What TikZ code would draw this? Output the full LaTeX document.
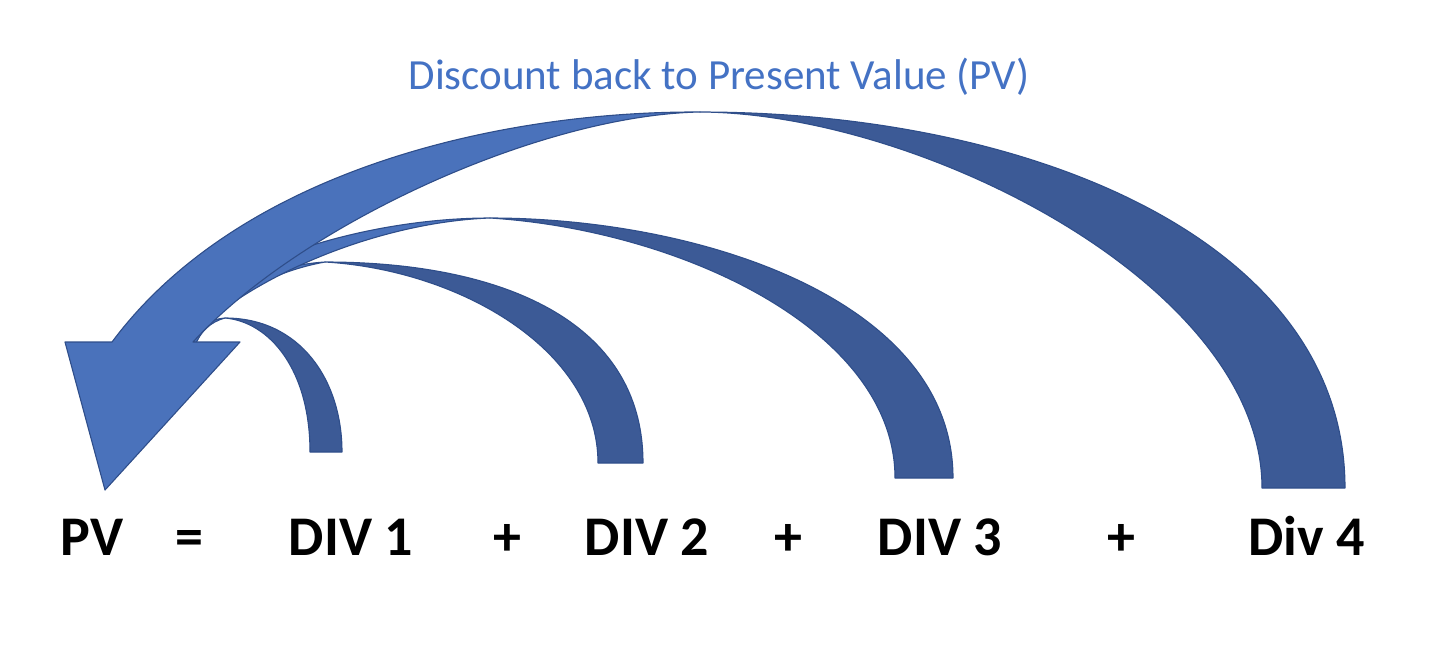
\documentclass[tikz,border=0pt]{standalone}
\usepackage{fontspec}
\setmainfont{Carlito}
\definecolor{lightb}{HTML}{4A72BB}
\definecolor{darkb}{HTML}{3C5A96}
\definecolor{edgeb}{HTML}{2F4E8A}
\definecolor{titleb}{HTML}{4472C4}
\tikzset{
  front/.style={fill=lightb, draw=edgeb, line width=1.1pt, line join=round},
  back/.style={fill=darkb, draw=edgeb, line width=1.1pt, line join=round},
  term/.style={font=\bfseries\fontsize{56}{60}\selectfont, anchor=base, inner sep=0pt},
  titletext/.style={font=\fontsize{43}{48}\selectfont, text=titleb, anchor=base, inner sep=0pt}
}
\begin{document}
\begin{tikzpicture}[x=1pt,y=-1pt]
\useasboundingbox (0,0) rectangle (1432,646);
% ---- arrow for DIV 1 ----
\draw[back] (225,318) .. controls (300,318) and (342,380) .. (342,452)
  -- (310,452) .. controls (310,370) and (270,322) .. (225,318) -- cycle;
\draw[front] (175,342) .. controls (190,330) and (205,320) .. (225,318)
  .. controls (210,322) and (200,332) .. (195,346) -- cycle;
% ---- arrow for DIV 2 ----
\draw[back] (325,262) .. controls (500,262) and (643,320) .. (643,463)
  -- (598,463) .. controls (598,350) and (460,270) .. (325,262) -- cycle;
\draw[front] (160,340) .. controls (200,300) and (260,266) .. (325,262)
  .. controls (270,272) and (220,300) .. (190,342) -- cycle;
% ---- arrow for DIV 3 ----
\draw[back] (490,218) .. controls (700,218) and (953,300) .. (953,478)
  -- (895,478) .. controls (895,330) and (680,230) .. (490,218) -- cycle;
\draw[front] (160,335) .. controls (220,260) and (370,218) .. (490,218)
  .. controls (380,222) and (250,275) .. (185,342) -- cycle;
% ---- big arrow for Div 4 ----
\draw[back] (700,112) .. controls (1030,112) and (1345,240) .. (1345,488)
  -- (1262,488) .. controls (1262,285) and (920,113) .. (700,112) -- cycle;
\draw[front] (193,342) -- (240,342) -- (105,490) -- (65,342) -- (112,342)
  .. controls (240,170) and (500,111) .. (700,112)
  .. controls (540,115) and (300,225) .. (193,342) -- cycle;
% ---- texts ----
\node[titletext] (title) at (719,89) {Discount back to Present Value (PV)};
\node[term] (pv) at (92,555) {PV};
\node[term] (eq) at (189,555) {=};
\node[term] (d1) at (351,555) {DIV 1};
\node[term] (p1) at (507,555) {+};
\node[term] (d2) at (647,555) {DIV 2};
\node[term] (p2) at (788,555) {+};
\node[term] (d3) at (940,555) {DIV 3};
\node[term] (p3) at (1121,555) {+};
\node[term] (d4) at (1307,555) {Div 4};
\end{tikzpicture}
\end{document}
